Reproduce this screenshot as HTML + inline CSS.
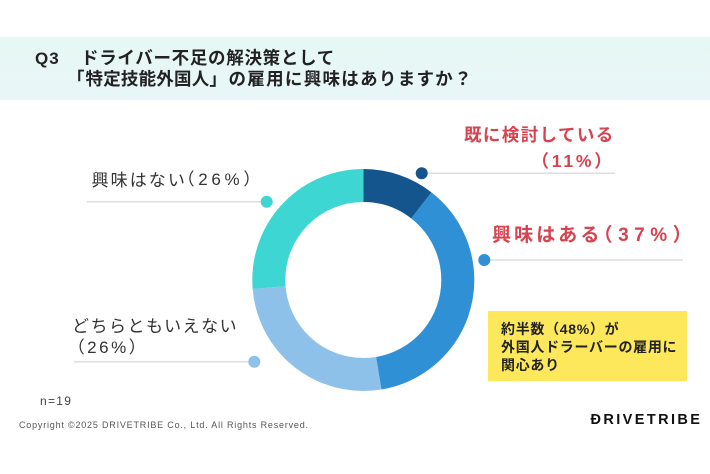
<!DOCTYPE html>
<html><head><meta charset="utf-8">
<style>
html,body{margin:0;padding:0;}
body{width:710px;height:474px;position:relative;overflow:hidden;background:#fff;
font-family:"Liberation Sans","Noto Sans CJK JP",sans-serif;}
.a{position:absolute;white-space:nowrap;}
.band{position:absolute;left:0;top:37px;width:710px;height:63px;background:linear-gradient(180deg,#e6f8f3,#e9f6f9);}
.t{font-size:17.5px;line-height:17.5px;font-weight:700;color:#222;}
.red{color:#d6434f;font-weight:700;}
.lab{font-size:17px;line-height:17px;color:#333;}
.yb{position:absolute;left:488px;top:311px;width:199px;height:70px;background:#fde85c;}
.yt{font-size:14px;line-height:18.2px;font-weight:700;color:#222;letter-spacing:0.7px;}
</style></head><body>
<div class="band"></div>
<div class="a t" style="left:35px;top:49.5px;font-size:17px;line-height:17px;letter-spacing:1px;">Q3</div>
<div class="a t" style="left:81px;top:49.5px;letter-spacing:0.7px;">ドライバー不足の解決策として</div>
<div class="a t" style="left:67px;top:71px;">「</div>
<div class="a t" style="left:85.5px;top:71px;letter-spacing:0.2px;">特定技能外国人」</div>
<div class="a t" style="left:228.5px;top:71px;letter-spacing:1.3px;">の雇用に興味はありますか？</div>

<svg class="a" style="left:0;top:0" width="710" height="474" viewBox="0 0 710 474">
<g transform="rotate(-90 363.3 280)" fill="none" stroke-width="33">
<circle cx="363.3" cy="280" r="94.5" stroke="#15558e" stroke-dasharray="62.5 600" stroke-dashoffset="0"/>
<circle cx="363.3" cy="280" r="94.5" stroke="#2f90d6" stroke-dasharray="218.75 600" stroke-dashoffset="-62.5"/>
<circle cx="363.3" cy="280" r="94.5" stroke="#8ec1e9" stroke-dasharray="156.25 600" stroke-dashoffset="-281.25"/>
<circle cx="363.3" cy="280" r="94.5" stroke="#3ed6d2" stroke-dasharray="157 600" stroke-dashoffset="-437.5"/>
</g>
<g stroke="#dedee3" stroke-width="1.5">
<line x1="87" y1="201.7" x2="266.7" y2="201.7"/>
<line x1="74" y1="361.7" x2="254.3" y2="361.7"/>
<line x1="421.7" y1="173.3" x2="615" y2="173.3"/>
<line x1="484.3" y1="260" x2="683" y2="260"/>
</g>
<circle cx="266.7" cy="201.7" r="6" fill="#3ed6d2"/>
<circle cx="254.3" cy="361.7" r="6" fill="#8ec1e9"/>
<circle cx="421.7" cy="173.3" r="6" fill="#15558e"/>
<circle cx="484.3" cy="260" r="6" fill="#2f90d6"/>
</svg>

<div class="a red" style="left:464px;top:127px;font-size:17.5px;line-height:17.5px;letter-spacing:1.4px;">既に検討している</div>
<div class="a red" style="left:531.5px;top:153px;font-size:17.5px;line-height:17.5px;letter-spacing:2.8px;">（11%）</div>
<div class="a red" style="left:492px;top:225.5px;font-size:19px;line-height:19px;letter-spacing:3.1px;">興味はある</div>
<div class="a red" style="left:593.6px;top:225.5px;font-size:19px;line-height:19px;letter-spacing:5.5px;">（37%）</div>

<div class="a lab" style="left:91.5px;top:172px;letter-spacing:2.1px;">興味はない</div>
<div class="a lab" style="left:177.5px;top:171px;letter-spacing:3.7px;">（26%）</div>
<div class="a lab" style="left:72px;top:317.5px;letter-spacing:1.5px;">どちらともいえない</div>
<div class="a lab" style="left:67.7px;top:338.5px;letter-spacing:2.5px;">（26%）</div>

<div class="yb"></div>
<div class="a yt" style="left:501px;top:319.5px;">約半数（48%）が<br>外国人ドラーバーの雇用に<br>関心あり</div>

<div class="a" style="left:40px;top:395px;font-size:12px;line-height:12px;letter-spacing:1.3px;color:#444;">n=19</div>
<div class="a" style="left:19px;top:420.5px;font-size:9px;line-height:9px;letter-spacing:0.8px;color:#555;">Copyright ©2025 DRIVETRIBE Co., Ltd. All Rights Reserved.</div>
<div class="a" style="left:590.5px;top:412.5px;font-size:14.5px;line-height:14.5px;font-weight:700;letter-spacing:2.4px;color:#111;">ĐRIVETRIBE</div>
</body></html>
